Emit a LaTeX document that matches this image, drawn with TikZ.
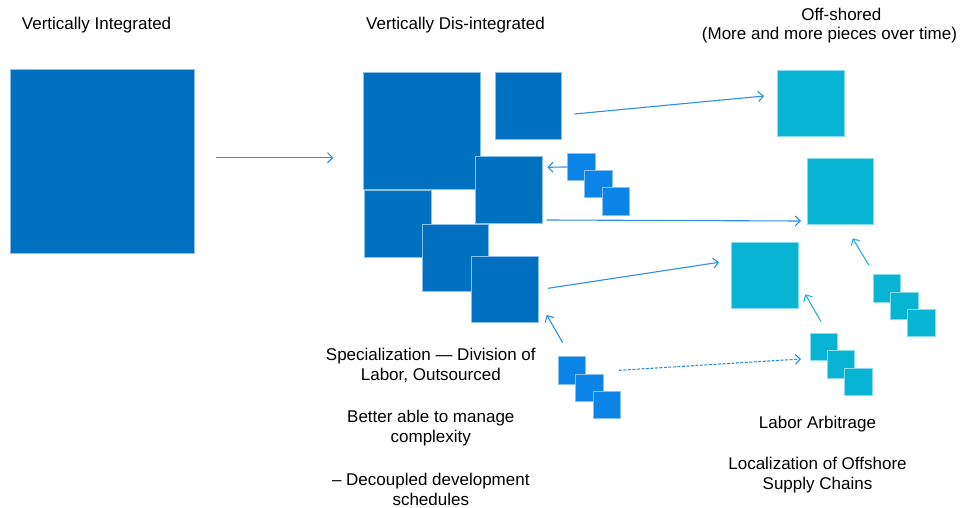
\documentclass[tikz,border=0pt]{standalone}
\usepackage{fontspec}
\setmainfont{Liberation Sans}
\usetikzlibrary{arrows.meta}
\definecolor{dblue}{HTML}{0070C0}
\definecolor{mblue}{HTML}{0A84E6}
\definecolor{cyanb}{HTML}{08B4D4}
\definecolor{bordb}{HTML}{8CC0EC}
\definecolor{bordc}{HTML}{8ADDEE}
\definecolor{arrb}{HTML}{2B8FE6}
\definecolor{arrc}{HTML}{22B2DA}
\tikzset{
  sq/.style={anchor=north west, inner sep=0pt, outer sep=0pt, line width=0.8pt, rectangle},
  bigsq/.style={sq, fill=dblue, draw=bordb},
  midsq/.style={sq, fill=mblue, draw=bordb},
  offsq/.style={sq, fill=cyanb, draw=bordc},
  arr/.style={draw=arrb, line width=1.1pt, -{Straight Barb[length=5pt,width=10pt,line width=1.1pt]}},
  carr/.style={arr, draw=arrc},
  txt/.style={anchor=base, inner sep=0pt, font=\fontsize{17}{20}\selectfont},
}
\begin{document}
\begin{tikzpicture}[x=1pt,y=-1pt]
\useasboundingbox (0,0) rectangle (969,508);
% titles
\node[txt, anchor=base west] (t1) at (21.7,30) {Vertically Integrated};
\node[txt, anchor=base west] (t2) at (366,29.5) {Vertically Dis-integrated};
\node[txt] (t3) at (841.3,21) {Off-shored};
\node[txt] (t4) at (829.5,40) {(More and more pieces over time)};
% left square
\node[bigsq, minimum width=184pt, minimum height=184pt] (L) at (10.7,69.3) {};
% middle cluster
\node[bigsq, minimum width=117.4pt, minimum height=117pt] (M1) at (363.3,72.3) {};
\node[bigsq, minimum width=66.7pt, minimum height=67.3pt] (M4) at (364.3,190) {};
\node[bigsq, minimum width=66.4pt, minimum height=67.4pt] (M5) at (422.3,224.3) {};
\node[bigsq, minimum width=67pt, minimum height=66.7pt] (M6) at (471.7,256) {};
\node[bigsq, minimum width=67pt, minimum height=66.6pt] (M3) at (475,156.7) {};
\node[bigsq, minimum width=66.3pt, minimum height=67pt] (M2) at (495,72.3) {};
% small blue squares
\node[midsq, minimum size=27.3pt] (s1) at (567.7,153.3) {};
\node[midsq, minimum size=27.3pt] (s2) at (584.7,170.3) {};
\node[midsq, minimum size=27.3pt] (s3) at (602,187.7) {};
\node[midsq, minimum size=27.3pt] (u1) at (558.3,356.7) {};
\node[midsq, minimum size=27.3pt] (u2) at (575.7,374) {};
\node[midsq, minimum size=27.3pt] (u3) at (593,391.3) {};
% off-shored squares
\node[offsq, minimum size=66.4pt] (O1) at (777.7,70) {};
\node[offsq, minimum size=66.5pt] (O2) at (807.3,158) {};
\node[offsq, minimum size=66.4pt] (O3) at (731.7,242.3) {};
\node[offsq, minimum size=27.3pt] (c1) at (810,333.3) {};
\node[offsq, minimum size=27.3pt] (c2) at (827.3,350.7) {};
\node[offsq, minimum size=27.3pt] (c3) at (844.7,368.3) {};
\node[offsq, minimum size=27.3pt] (d1) at (873.3,274.7) {};
\node[offsq, minimum size=27.3pt] (d2) at (890.7,292) {};
\node[offsq, minimum size=27.3pt] (d3) at (907.7,309.3) {};
% connector end points
\coordinate (a0s) at (216,157.7);   \coordinate (a0e) at (333.3,157.7);
\coordinate (a1s) at (574.3,114);   \coordinate (a1e) at (764,96);
\coordinate (a2e) at (547.3,167.3);
\coordinate (a3s) at (546.7,220);   \coordinate (a3e) at (801,221);
\coordinate (a4s) at (548,288.3);   \coordinate (a4e) at (719,262.3);
\coordinate (a5s) at (562.7,342.7); \coordinate (a5e) at (546.7,315);
\coordinate (a6s) at (619,370.3);   \coordinate (a6e) at (801,359);
\coordinate (a7s) at (821,321.7);   \coordinate (a7e) at (805.3,294.3);
\coordinate (a8s) at (868.7,265);   \coordinate (a8e) at (852.7,238.3);
% connectors
\draw[arr] (a0s) -- (a0e);
\draw[arr] (a1s) -- (a1e);
\draw[arr] (s1.west) -- (a2e);
\draw[arr] (a3s) -- (a3e);
\draw[arr] (a4s) -- (a4e);
\draw[arr] (a5s) -- (a5e);
\draw[arr, dash pattern=on 3pt off 1.5pt] (a6s) -- (a6e);
\draw[carr] (a7s) -- (a7e);
\draw[carr] (a8s) -- (a8e);
% text blocks
\node[txt] (p1) at (430.8,360.7) {Specialization — Division of};
\node[txt] (p2) at (430.8,380.7) {Labor, Outsourced};
\node[txt] (p3) at (430.8,422.5) {Better able to manage};
\node[txt] (p4) at (430.8,442) {complexity};
\node[txt] (p5) at (430.8,485) {– Decoupled development};
\node[txt] (p6) at (430.8,505) {schedules};
\node[txt] (q1) at (817.5,428) {Labor Arbitrage};
\node[txt] (q2) at (817.5,469) {Localization of Offshore};
\node[txt] (q3) at (817.5,489) {Supply Chains};
\end{tikzpicture}
\end{document}
